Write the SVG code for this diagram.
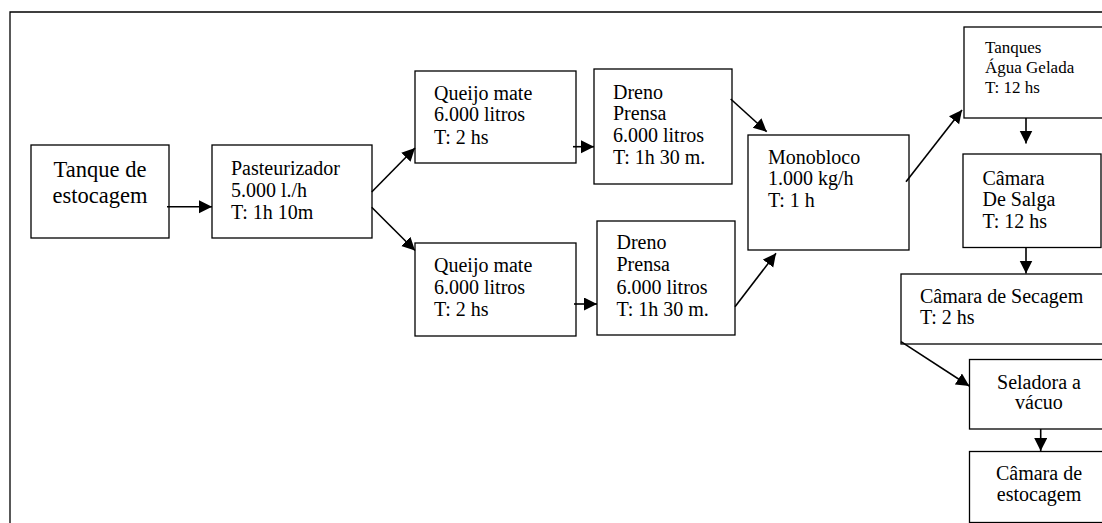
<svg xmlns="http://www.w3.org/2000/svg" width="1102" height="523" viewBox="0 0 1102 523">
  <style>
    .box { fill: #fff; stroke: #000; stroke-width: 1.3; }
    .frame { fill: none; stroke: #000; stroke-width: 1.3; }
    .lbl { font-family: "Liberation Serif", "Times New Roman", serif; font-size: 20px; fill: #000; }
    .big { font-size: 22.5px; }
    .small { font-size: 17px; }
    .mid { text-anchor: middle; }
    .conn line { stroke: #000; stroke-width: 1.6; marker-end: url(#head); }
  </style>
  <defs>
    <marker id="head" markerUnits="userSpaceOnUse" markerWidth="14" markerHeight="14" refX="13" refY="6.5" orient="auto">
      <path d="M0,0 L13,6.5 L0,13 Z" fill="#000"/>
    </marker>
  </defs>

  <rect width="1102" height="523" fill="#fff"/>
  <!-- outer frame, open at right and bottom -->
  <path class="frame" d="M10,523 L10,12 L1102,12"/>

  <g id="tanque">
    <rect class="box" x="31" y="145" width="138" height="93"/>
    <text class="lbl big mid" x="100" y="177">Tanque de</text>
    <text class="lbl big mid" x="100" y="203">estocagem</text>
  </g>

  <g id="pasteurizador">
    <rect class="box" x="212" y="145" width="160" height="93"/>
    <text class="lbl" x="231" y="175">Pasteurizador</text>
    <text class="lbl" x="231" y="197">5.000 l./h</text>
    <text class="lbl" x="231" y="218.5">T: 1h 10m</text>
  </g>

  <g id="queijo1">
    <rect class="box" x="415" y="71" width="161" height="92"/>
    <text class="lbl" x="434" y="99.5">Queijo mate</text>
    <text class="lbl" x="434" y="121">6.000 litros</text>
    <text class="lbl" x="434" y="144">T: 2 hs</text>
  </g>

  <g id="queijo2">
    <rect class="box" x="415" y="243" width="161" height="93"/>
    <text class="lbl" x="434" y="271.5">Queijo mate</text>
    <text class="lbl" x="434" y="294">6.000 litros</text>
    <text class="lbl" x="434" y="316">T: 2 hs</text>
  </g>

  <g id="dreno1">
    <rect class="box" x="594" y="69" width="138" height="115"/>
    <text class="lbl" x="613" y="98.5">Dreno</text>
    <text class="lbl" x="613" y="119.5">Prensa</text>
    <text class="lbl" x="613" y="141.5">6.000 litros</text>
    <text class="lbl" x="613" y="163.5">T: 1h 30 m.</text>
  </g>

  <g id="dreno2">
    <rect class="box" x="597" y="221" width="138" height="114"/>
    <text class="lbl" x="616.5" y="248.5">Dreno</text>
    <text class="lbl" x="616.5" y="271">Prensa</text>
    <text class="lbl" x="616.5" y="294">6.000 litros</text>
    <text class="lbl" x="616.5" y="316">T: 1h 30 m.</text>
  </g>

  <g id="monobloco">
    <rect class="box" x="748" y="135" width="161" height="115"/>
    <text class="lbl" x="768" y="163.5">Monobloco</text>
    <text class="lbl" x="768" y="185">1.000 kg/h</text>
    <text class="lbl" x="768" y="206.5">T: 1 h</text>
  </g>

  <g id="tanques-agua">
    <rect class="box" x="964" y="27" width="150" height="91"/>
    <text class="lbl small" x="985" y="52.5">Tanques</text>
    <text class="lbl small" x="985" y="73">Água Gelada</text>
    <text class="lbl small" x="985" y="92.5">T: 12 hs</text>
  </g>

  <g id="camara-salga">
    <rect class="box" x="963" y="154" width="138" height="93.5"/>
    <text class="lbl" x="982.5" y="184.5">Câmara</text>
    <text class="lbl" x="982.5" y="205.5">De Salga</text>
    <text class="lbl" x="982.5" y="227.5">T: 12 hs</text>
  </g>

  <g id="camara-secagem">
    <rect class="box" x="901" y="274" width="215" height="70"/>
    <text class="lbl" x="920" y="302.5">Câmara de Secagem</text>
    <text class="lbl" x="920" y="324">T: 2 hs</text>
  </g>

  <g id="seladora">
    <rect class="box" x="969.5" y="359.5" width="145" height="69.5"/>
    <text class="lbl mid" x="1039" y="388.5">Seladora a</text>
    <text class="lbl mid" x="1039" y="408.5">vácuo</text>
  </g>

  <g id="camara-estocagem">
    <rect class="box" x="969.5" y="451.5" width="145" height="71"/>
    <text class="lbl mid" x="1039" y="480">Câmara de</text>
    <text class="lbl mid" x="1039" y="500.5">estocagem</text>
  </g>

  <g class="conn" id="connectors">
    <line x1="167" y1="206.7" x2="212" y2="206.7"/>
    <line x1="371.7" y1="192" x2="415" y2="148"/>
    <line x1="371.7" y1="207.3" x2="415" y2="250.5"/>
    <line x1="573" y1="146.7" x2="594" y2="146.7"/>
    <line x1="574" y1="304" x2="597" y2="304"/>
    <line x1="730.7" y1="99" x2="766.7" y2="131.7"/>
    <line x1="735" y1="306.7" x2="776" y2="253.3"/>
    <line x1="906" y1="181.7" x2="962" y2="110"/>
    <line x1="1026" y1="118" x2="1026" y2="143.5"/>
    <line x1="1026" y1="247.5" x2="1026" y2="273.5"/>
    <line x1="901" y1="341.7" x2="969.3" y2="386"/>
    <line x1="1040.7" y1="429" x2="1040.7" y2="451"/>
  </g>
</svg>
